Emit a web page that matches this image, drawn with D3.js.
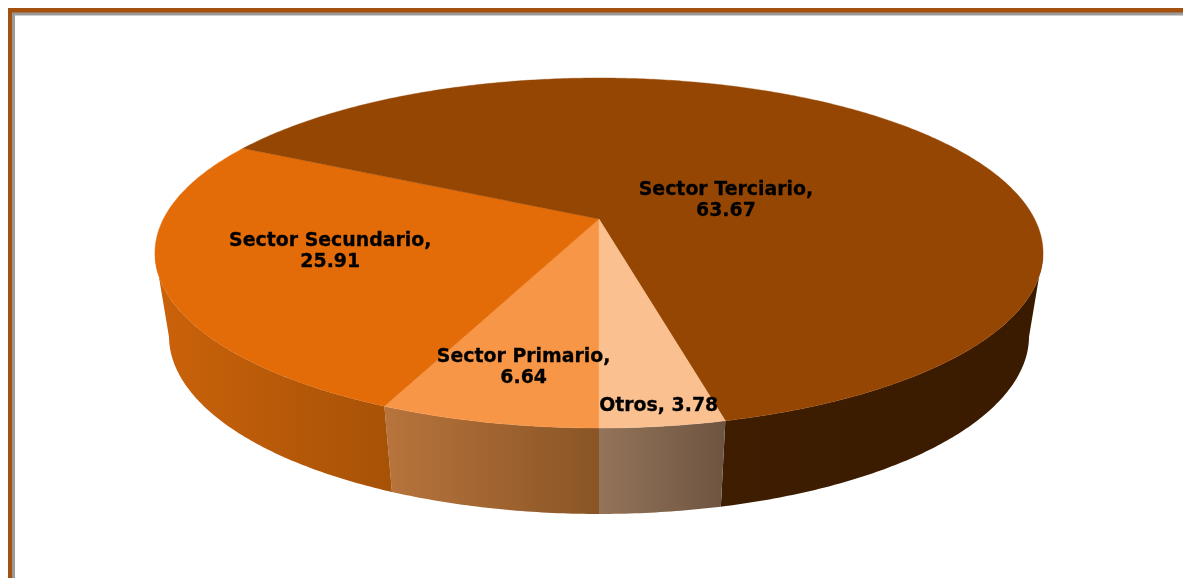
<!DOCTYPE html>
<html>
<head>
<meta charset="utf-8">
<script src="https://cdn.jsdelivr.net/npm/d3@7/dist/d3.min.js"></script>
<style>
html,body{margin:0;padding:0;background:#fff;overflow:hidden}
svg{display:block}
text{font-family:"DejaVu Sans",sans-serif;font-weight:700;font-size:18.9px;fill:#000;stroke:#000;stroke-width:0.3px;text-anchor:middle}
</style>
</head>
<body>
<svg id="c" width="1183" height="578"></svg>
<script>
// data (clockwise from the bottom of the pie)
const categories = ["Sector Primario", "Sector Secundario", "Sector Terciario", "Otros"];
const values = [6.64, 25.91, 63.67, 3.78];
const labelLines = [["Sector Primario,", "6.64"], ["Sector Secundario,", "25.91"], ["Sector Terciario,", "63.67"], ["Otros, 3.78"]];
// styles
const topColors = ["#F79646", "#E36C09", "#964603", "#FAC090"];
const wallLeft = ["#B8743C", "#CB620A", "#3E1D01", "#94745A"];
const wallRight = ["#895526", "#A65207", "#3A1B00", "#6D5441"];
// layout
const labelRadius = [0.77, 0.63, 0.35, 0.92];
const labelNudge = [[6, -1], [1, -5], [12, 15], [2, -1]];
const W = 1183, H = 578;
const topPlane = {cx: 599, cy: 219, R: 435.6, a: 168.4, k: 0.1943};
const botPlane = {cx: 599, cy: 302.1, R: 422.2, a: 171.6, k: 0.19};

const project = (p, theta, f = 1) => {
  const u = f * Math.sin(theta), v = -f * Math.cos(theta), d = 1 - p.k * v;
  return [p.cx + p.R * u / d, p.cy + p.a * v / d];
};
const arcPts = (p, a0, a1) => {
  const n = Math.max(2, Math.ceil(Math.abs(a1 - a0) / 0.01));
  const s = d3.scaleLinear().domain([0, n]).range([a0, a1]);
  return d3.range(n + 1).map(i => project(p, s(i)));
};
const line = d3.line();
const svg = d3.select("#c");
const defs = svg.append("defs");
const soft = defs.append("filter").attr("id", "soft");
soft.append("feGaussianBlur").attr("stdDeviation", 0.35);

// frame
svg.append("rect").attr("x", 8).attr("y", 8).attr("width", W).attr("height", H).attr("fill", "#A4500E");
svg.append("rect").attr("x", 12).attr("y", 12.5).attr("width", W).attr("height", H).attr("fill", "#9A9A9A");
svg.append("rect").attr("x", 15).attr("y", 15.5).attr("width", W).attr("height", H).attr("fill", "#fff");

const pie = d3.pie().sort(null).startAngle(Math.PI).endAngle(3 * Math.PI);
const arcs = pie(values);

// the visible side of the disc runs between the two silhouette angles
const frontStart = Math.PI - Math.acos(topPlane.k);
const frontEnd = Math.PI + Math.acos(topPlane.k);
const frontRanges = [[frontStart, frontEnd], [frontStart + 2 * Math.PI, frontEnd + 2 * Math.PI]];

arcs.forEach((d, i) => {
  frontRanges.forEach(([f0, f1], j) => {
    const a0 = Math.max(d.startAngle, f0), a1 = Math.min(d.endAngle, f1);
    if (a1 <= a0) return;
    const pts = arcPts(topPlane, a0, a1).concat(arcPts(botPlane, a1, a0));
    const xs = d3.extent(pts, p => p[0]);
    const id = `wall${i}_${j}`;
    const g = defs.append("linearGradient").attr("id", id).attr("gradientUnits", "userSpaceOnUse")
      .attr("x1", xs[0]).attr("x2", xs[1]).attr("y1", 0).attr("y2", 0);
    g.append("stop").attr("offset", 0).attr("stop-color", wallLeft[i]);
    g.append("stop").attr("offset", 1).attr("stop-color", wallRight[i]);
    svg.append("path").attr("d", line(pts) + "Z").attr("fill", `url(#${id})`);
  });
});

arcs.forEach((d, i) => {
  const pts = [project(topPlane, 0, 0)].concat(arcPts(topPlane, d.startAngle, d.endAngle));
  svg.append("path").attr("d", line(pts) + "Z").attr("fill", topColors[i])
    .attr("stroke", topColors[i]).attr("stroke-width", 0.4);
});

arcs.forEach((d, i) => {
  const mid = (d.startAngle + d.endAngle) / 2;
  const [x, y] = project(topPlane, mid, labelRadius[i]);
  const lines = labelLines[i];
  const t = svg.append("text").attr("data-category", categories[i]).attr("filter", "url(#soft)");
  lines.forEach((s, j) => {
    t.append("tspan").attr("x", x + labelNudge[i][0])
      .attr("y", y + labelNudge[i][1] + 6 + (j - (lines.length - 1) / 2) * 21).text(s);
  });
});
</script>
</body>
</html>
